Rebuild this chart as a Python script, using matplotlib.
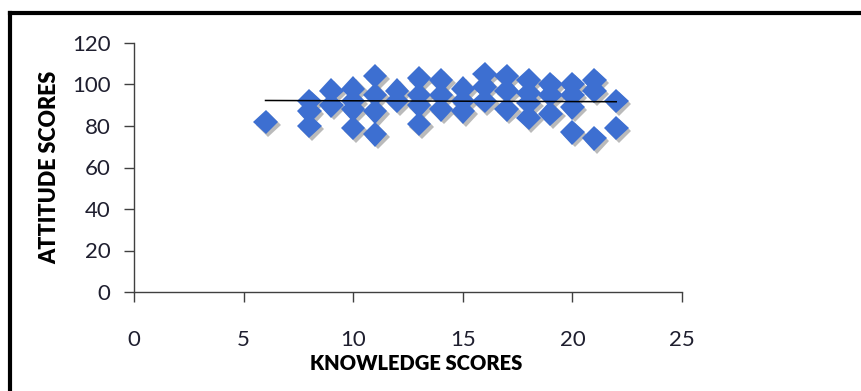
import matplotlib
matplotlib.use('Agg')
import matplotlib.pyplot as plt
import matplotlib.patheffects as pe
from matplotlib.lines import Line2D


# knowledge vs attitude scores
knowledge = [6,
             8, 8, 8,
             9, 9,
             10, 10, 10, 10,
             11, 11, 11, 11,
             12, 12,
             13, 13, 13, 13,
             14, 14, 14,
             15, 15, 15,
             16, 16, 16,
             17, 17, 17,
             18, 18, 18, 18,
             19, 19, 19,
             20, 20, 20, 20,
             21, 21, 21,
             22, 22]
attitude = [82,
            92, 87, 80,
            97, 90,
            98, 92, 88, 79,
            104, 95, 87, 76,
            97, 92,
            103, 95, 90, 81,
            102, 95, 88,
            98, 92, 87,
            105, 99, 92,
            104, 97, 88,
            102, 96, 91, 84,
            100, 95, 86,
            100, 95, 89, 77,
            102, 97, 74,
            92, 79]

# linear trend line end points (as shown in the chart)
trend_x = [6, 22]
trend_y = [92.3, 91.7]

x_ticks = [0, 5, 10, 15, 20, 25]
y_ticks = [0, 20, 40, 60, 80, 100, 120]

plt.rcParams['font.family'] = ['Lato', 'DejaVu Sans']

fig = plt.figure(figsize=(8.61, 3.91), dpi=100)
ax = fig.add_axes([134 / 861, 1 - 292 / 391, 548 / 861, 249 / 391])

shadow = [pe.SimplePatchShadow(offset=(2, -2), shadow_rgbFace='#777777', alpha=0.5), pe.Normal()]
ax.plot(knowledge, attitude, linestyle='none', marker='D', markersize=12.5,
        color='#3d6fd1', markeredgewidth=0, path_effects=shadow, zorder=2)

ax.plot(trend_x, trend_y, color='black', linewidth=1.1, zorder=3)

ax.set_xlim(0, 25)
ax.set_ylim(0, 120)
ax.set_xticks(x_ticks)
ax.set_yticks(y_ticks)
ax.spines['top'].set_visible(False)
ax.spines['right'].set_visible(False)
for s in ['left', 'bottom']:
    ax.spines[s].set_color('#404040')
    ax.spines[s].set_linewidth(1.0)
ax.tick_params(axis='x', length=7, width=1, color='#404040', pad=20, labelsize=16, labelcolor='#1f1f2f')
ax.tick_params(axis='y', length=7, width=1, color='#404040', pad=10, labelsize=16, labelcolor='#1f1f2f')

ax.set_xlabel('KNOWLEDGE SCORES', fontsize=14.5, fontweight='heavy')
ax.set_ylabel('ATTITUDE SCORES', fontsize=15.5, fontweight='heavy', labelpad=8)
ax.xaxis.set_label_coords(0.514, -0.25)

# outer frame (left and top edges only are visible)
fig.add_artist(Line2D([10 / 861, 10 / 861], [0, 1 - 13 / 391], transform=fig.transFigure,
                      color='black', linewidth=3))
fig.add_artist(Line2D([10 / 861, 1], [1 - 13 / 391, 1 - 13 / 391], transform=fig.transFigure,
                      color='black', linewidth=3))

fig.savefig('out.png', dpi=100)
